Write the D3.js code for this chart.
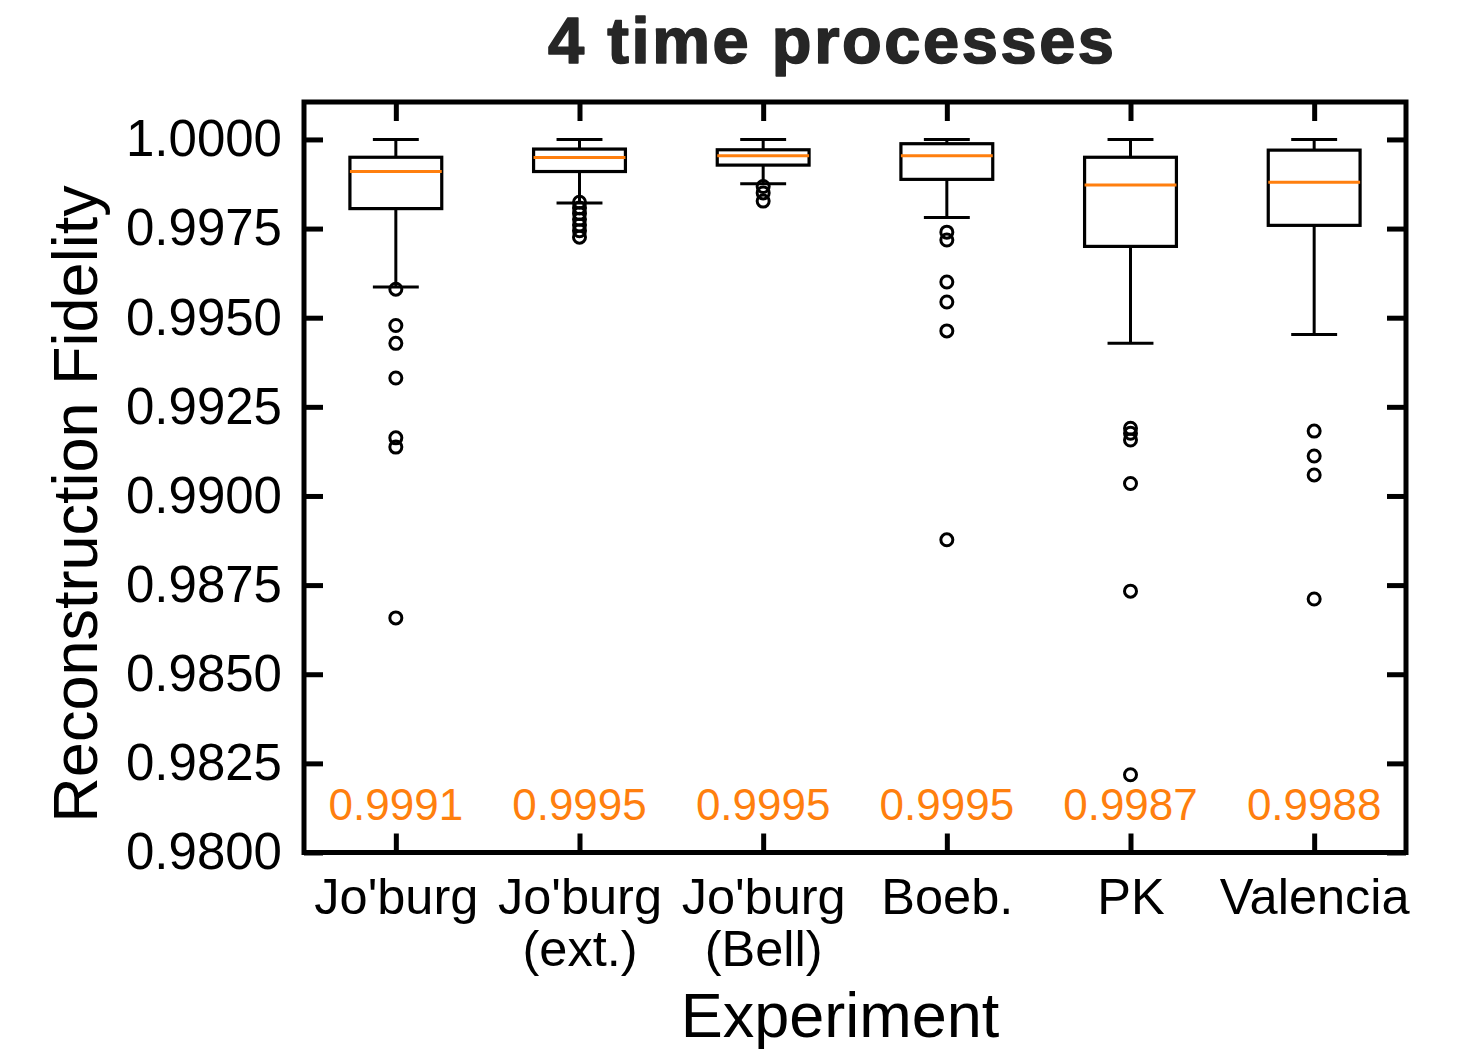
<!DOCTYPE html>
<html>
<head>
<meta charset="utf-8">
<script src="https://cdn.jsdelivr.net/npm/d3@7"></script>
<style>
  html, body { margin: 0; padding: 0; background: #fff; }
  svg { display: block; }
  text { font-family: "Liberation Sans", Arial, Helvetica, sans-serif; }
</style>
</head>
<body>
<svg id="chart" width="1461" height="1049"></svg>
<script>
// Experiments on the x axis (line breaks split the tick labels)
const categories = ["Jo'burg", "Jo'burg\n(ext.)", "Jo'burg\n(Bell)", "Boeb.", "PK", "Valencia"];

// Box-plot summary statistics of the reconstruction fidelity
const whiskerHigh = [1.00000, 1.00000, 1.00000, 1.00000, 1.00000, 1.00000];
const q3          = [0.99950, 0.99973, 0.99971, 0.99988, 0.99950, 0.99970];
const medians     = [0.99910, 0.99949, 0.99954, 0.99954, 0.99872, 0.99880];
const q1          = [0.99806, 0.99910, 0.99928, 0.99888, 0.99700, 0.99759];
const whiskerLow  = [0.99586, 0.99822, 0.99876, 0.99781, 0.99428, 0.99453];

// Points beyond the whiskers
const outliers = [
  [0.99580, 0.99478, 0.99428, 0.99331, 0.99163, 0.99137, 0.98658],
  [0.99824, 0.99808, 0.99792, 0.99776, 0.99760, 0.99744, 0.99726],
  [0.99868, 0.99850, 0.99827],
  [0.99740, 0.99718, 0.99600, 0.99544, 0.99463, 0.98877],
  [0.99190, 0.99176, 0.99157, 0.99035, 0.98733, 0.98218],
  [0.99182, 0.99112, 0.99059, 0.98711]
];

// Y axis ticks and the level at which median values are printed
const yTicks = [0.98, 0.9825, 0.985, 0.9875, 0.99, 0.9925, 0.995, 0.9975, 1.0];
const yDomain = [0.98, 1.00105];
const medianLabelLevel = 0.98090;

const title = "4 time processes";
const xLabel = "Experiment";
const yLabel = "Reconstruction Fidelity";

const ORANGE = "#ff7f0e";
const plot = { left: 304, right: 1406, top: 102, bottom: 852.5 };

const svg = d3.select("#chart");

const x = d3.scalePoint().domain(categories).range([plot.left, plot.right]).padding(0.5);
const y = d3.scaleLinear().domain(yDomain).range([plot.bottom, plot.top]);
const step = x.step();
const boxW = step * 0.5;
const capW = boxW * 0.5;

const rows = categories.map((c, i) => ({
  c, lo: whiskerLow[i], q1: q1[i], med: medians[i], q3: q3[i], hi: whiskerHigh[i], out: outliers[i]
}));

// Boxes, whiskers and caps
const g = svg.append("g");
const box = g.selectAll("g.box").data(rows).join("g").attr("class", "box");

box.append("line")
  .attr("x1", d => x(d.c)).attr("x2", d => x(d.c))
  .attr("y1", d => y(d.q1)).attr("y2", d => y(d.lo))
  .attr("stroke", "#000").attr("stroke-width", 3);
box.append("line")
  .attr("x1", d => x(d.c)).attr("x2", d => x(d.c))
  .attr("y1", d => y(d.q3)).attr("y2", d => y(d.hi))
  .attr("stroke", "#000").attr("stroke-width", 3);
box.append("line")
  .attr("x1", d => x(d.c) - capW / 2).attr("x2", d => x(d.c) + capW / 2)
  .attr("y1", d => y(d.lo)).attr("y2", d => y(d.lo))
  .attr("stroke", "#000").attr("stroke-width", 3);
box.append("line")
  .attr("x1", d => x(d.c) - capW / 2).attr("x2", d => x(d.c) + capW / 2)
  .attr("y1", d => y(d.hi)).attr("y2", d => y(d.hi))
  .attr("stroke", "#000").attr("stroke-width", 3);
box.append("rect")
  .attr("x", d => x(d.c) - boxW / 2).attr("width", boxW)
  .attr("y", d => y(d.q3)).attr("height", d => y(d.q1) - y(d.q3))
  .attr("fill", "none").attr("stroke", "#000").attr("stroke-width", 3.2);
box.append("line")
  .attr("x1", d => x(d.c) - boxW / 2).attr("x2", d => x(d.c) + boxW / 2)
  .attr("y1", d => y(d.med)).attr("y2", d => y(d.med))
  .attr("stroke", ORANGE).attr("stroke-width", 3);

// Outlier markers
box.selectAll("circle")
  .data(d => d.out.map(v => ({ c: d.c, v })))
  .join("circle")
  .attr("cx", d => x(d.c)).attr("cy", d => y(d.v)).attr("r", 6)
  .attr("fill", "none").attr("stroke", "#000").attr("stroke-width", 3);

// Median values printed near the bottom of the plot
const fmt = d3.format(".4f");
g.selectAll("text.med").data(rows).join("text")
  .attr("class", "med")
  .attr("x", d => x(d.c)).attr("y", y(medianLabelLevel))
  .attr("text-anchor", "middle")
  .attr("font-size", 44).attr("fill", ORANGE)
  .text(d => fmt(d.med));

// Axes with inward ticks on all four sides
const tickLen = 19;
const styleAxis = sel => {
  sel.select(".domain").remove();
  sel.selectAll(".tick line").attr("stroke", "#000").attr("stroke-width", 5);
};

svg.append("g").attr("transform", `translate(${plot.left},0)`)
  .call(d3.axisLeft(y).tickValues(yTicks).tickSize(-tickLen).tickPadding(22).tickFormat(d3.format(".4f")))
  .call(styleAxis)
  .call(s => s.selectAll(".tick text").attr("font-size", 51).attr("fill", "#000")
    .attr("font-family", "'Liberation Sans', Arial, sans-serif"));

svg.append("g").attr("transform", `translate(${plot.right},0)`)
  .call(d3.axisRight(y).tickValues(yTicks).tickSize(-tickLen).tickFormat(""))
  .call(styleAxis);

svg.append("g").attr("transform", `translate(0,${plot.top})`)
  .call(d3.axisTop(x).tickSize(-tickLen).tickFormat(""))
  .call(styleAxis);

const xAxis = svg.append("g").attr("transform", `translate(0,${plot.bottom})`)
  .call(d3.axisBottom(x).tickSize(-tickLen).tickFormat(""))
  .call(styleAxis);

xAxis.selectAll(".tick").each(function (d) {
  const t = d3.select(this).append("text")
    .attr("text-anchor", "middle")
    .attr("font-size", 50.5).attr("fill", "#000")
    .attr("font-family", "'Liberation Sans', Arial, sans-serif");
  d.split("\n").forEach((line, i) => {
    t.append("tspan").attr("x", 0).attr("y", 61 + i * 52).text(line);
  });
});

// Frame
svg.append("rect")
  .attr("x", plot.left).attr("y", plot.top)
  .attr("width", plot.right - plot.left).attr("height", plot.bottom - plot.top)
  .attr("fill", "none").attr("stroke", "#000").attr("stroke-width", 5);

// Axis titles
svg.append("text")
  .attr("x", 840).attr("y", 1037)
  .attr("text-anchor", "middle").attr("font-size", 63).attr("fill", "#000")
  .text(xLabel);

svg.append("text")
  .attr("transform", "translate(97,504) rotate(-90)")
  .attr("text-anchor", "middle").attr("font-size", 63).attr("fill", "#000")
  .text(yLabel);

// Title
svg.append("text")
  .attr("x", 831).attr("y", 63)
  .attr("text-anchor", "middle")
  .attr("font-size", 65).attr("font-weight", "bold")
  .attr("fill", "#262626").attr("stroke", "#262626").attr("stroke-width", 1.6)
  .attr("stroke-linejoin", "round")
  .attr("textLength", 566).attr("lengthAdjust", "spacing")
  .text(title);
</script>
</body>
</html>
